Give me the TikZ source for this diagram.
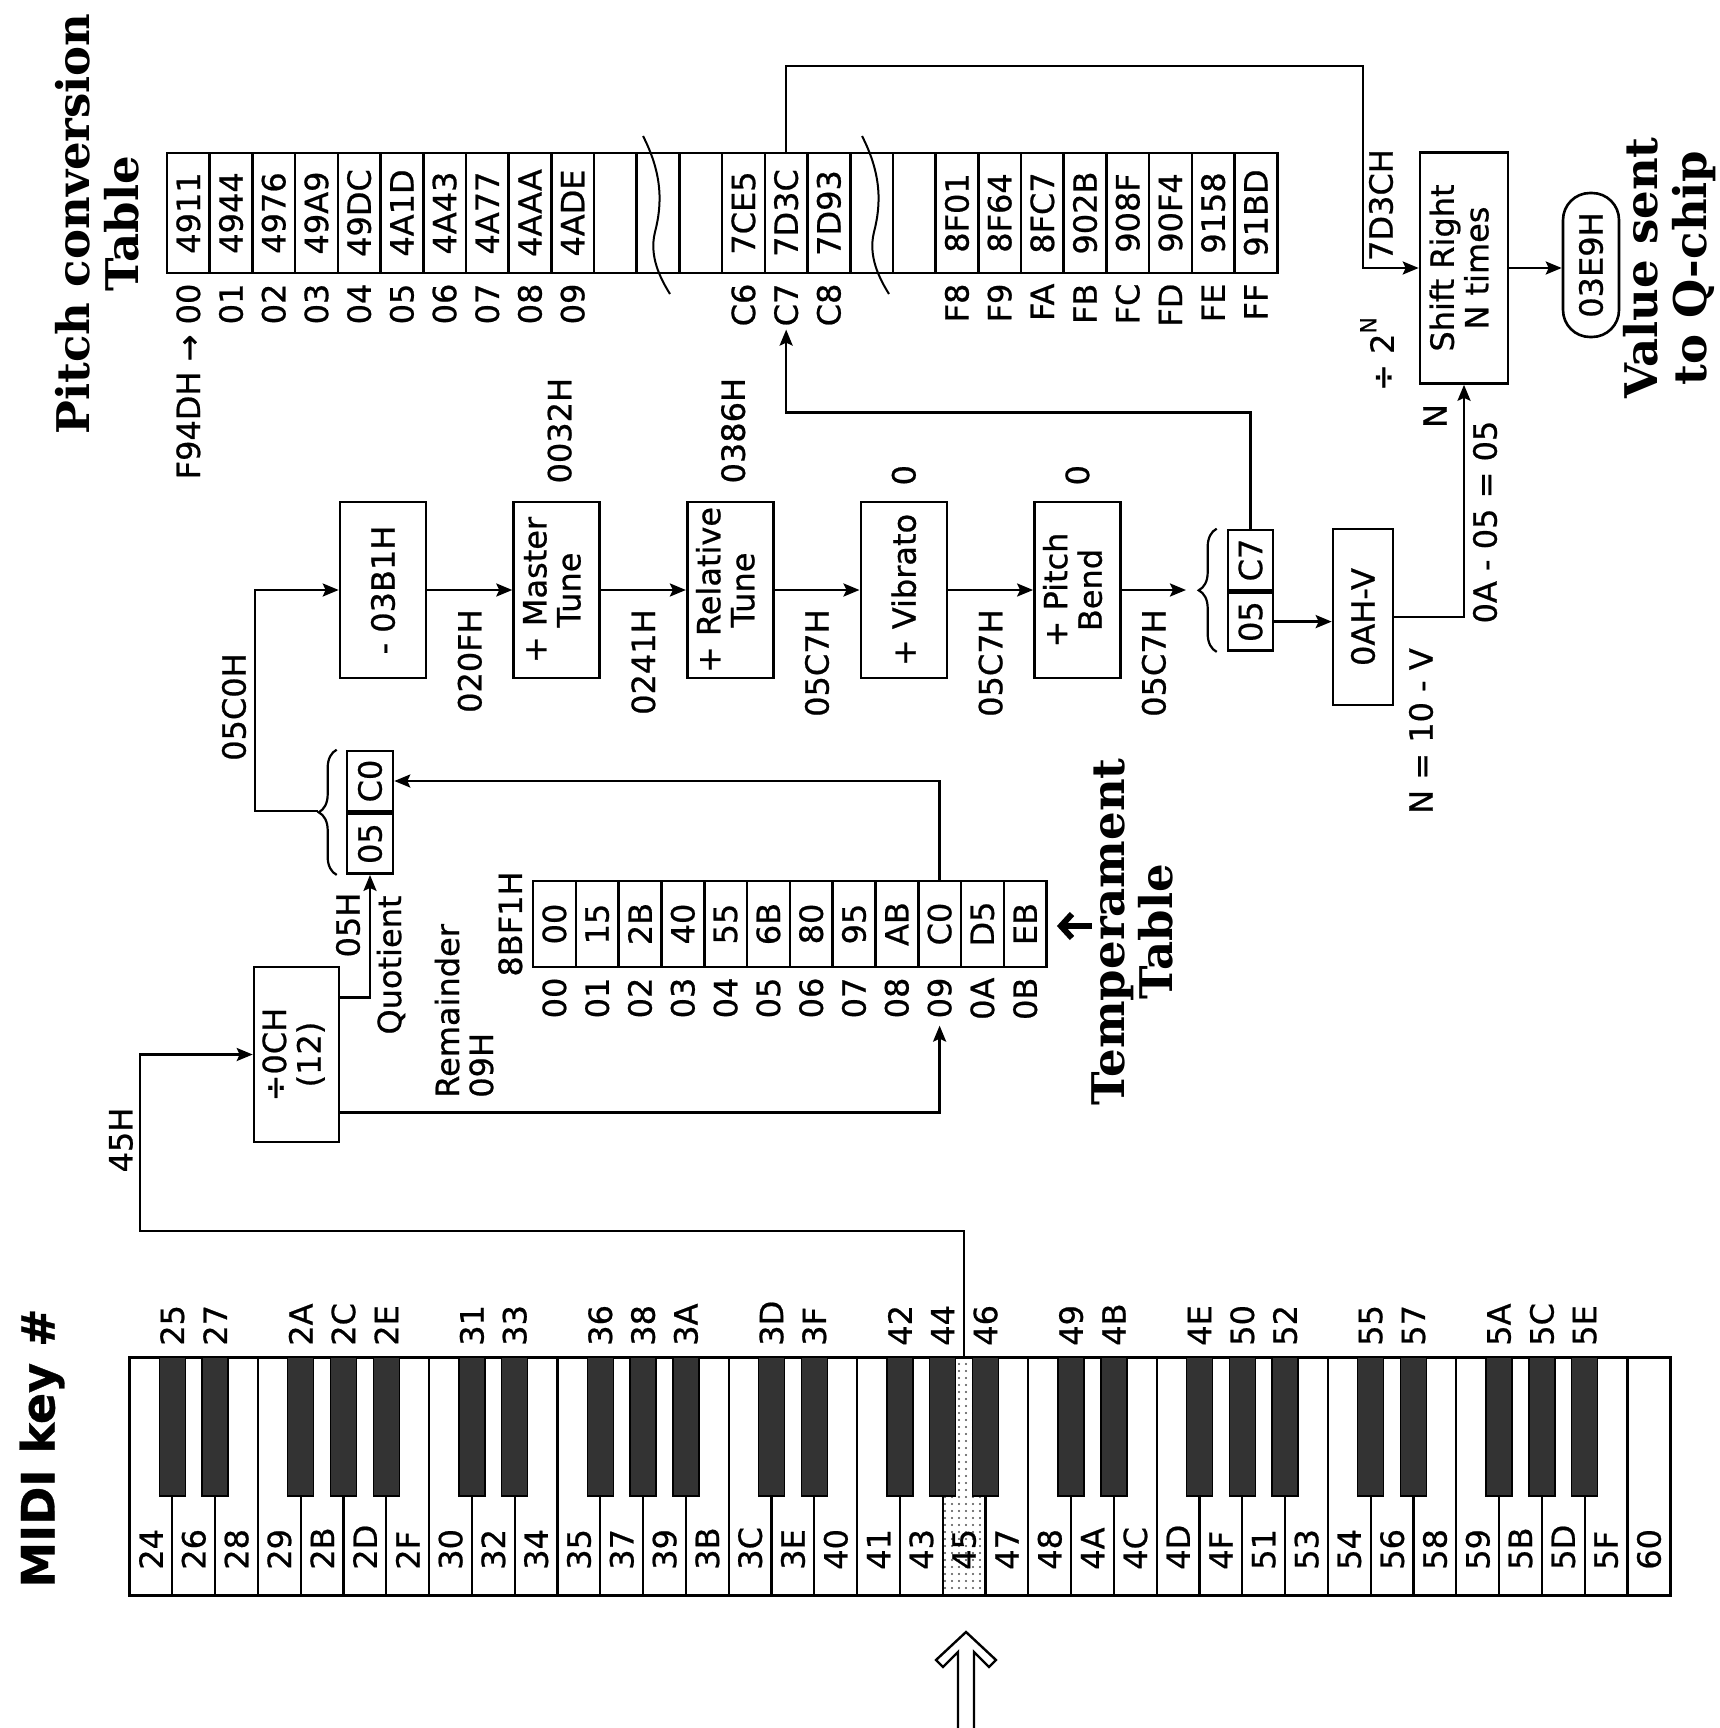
\documentclass[tikz,border=0pt]{standalone}
\usepackage{fontspec}
\setmainfont{DejaVu Sans}[FakeBold=0.7]
\newfontfamily\headfont{DejaVu Serif}
\usetikzlibrary{positioning,arrows.meta,decorations.pathreplacing,patterns.meta}

\newcommand{\vt}[1]{\rotatebox{90}{#1}}
\newcommand{\vtt}[2]{\rotatebox{90}{\begin{tabular}{@{}c@{}}#1\\#2\end{tabular}}}
\newcommand{\vtl}[2]{\rotatebox{90}{\begin{tabular}{@{}l@{}}#1\\#2\end{tabular}}}

\begin{document}
\begin{tikzpicture}[x=1pt, y=-1pt, line width=2.6pt,
    every node/.style={font=\fontsize{32}{34}\selectfont, inner sep=2pt},
    blk/.style={rectangle, draw, minimum width=86pt, minimum height=176pt, inner sep=0pt},
    pcell/.style={rectangle, draw, minimum width=42.7pt, minimum height=120pt, inner sep=0pt},
    tcell/.style={rectangle, draw, minimum width=42.8pt, minimum height=86pt, inner sep=0pt},
    rcell/.style={rectangle, draw, minimum width=46pt, minimum height=60pt, inner sep=0pt},
    ttl/.style={font=\headfont\bfseries\fontsize{45}{47}\selectfont, inner sep=0pt},
    arr/.style={-{Stealth[length=16pt, width=13pt, inset=3pt]}},
    brc/.style={decorate, decoration={brace, amplitude=18pt}, line width=2.2pt},
]
\useasboundingbox (0,0) rectangle (1719,1728);

%% Pitch conversion table
\node[ttl] (pctitle) at (104,224) {\vtt{Pitch conversion}{Table}};
\foreach \v [count=\i from 0] in {4911,4944,4976,49A9,49DC,4A1D,4A43,4A77,4AAA,4ADE,{},{},{},
        7CE5,7D3C,7D93,{},{},8F01,8F64,8FC7,902B,908F,90F4,9158,91BD}
    \node[pcell] (pc-\i) at ({188.35+42.7*\i},213) {\vt{\v}};
\foreach \d in {0,219}
    \draw[line width=2pt] ({643+\d},136) .. controls ({663+\d},175) and ({662+\d},205) .. ({655+\d},232)
        .. controls ({649+\d},256) and ({660+\d},278) .. ({670+\d},294);
\node[below=6pt of pc-0] (pi-0) {\vt{F94DH → 00}};
\foreach \i/\t in {1/01,2/02,3/03,4/04,5/05,6/06,7/07,8/08,9/09,13/C6,14/C7,15/C8,
                   18/F8,19/F9,20/FA,21/FB,22/FC,23/FD,24/FE,25/FF}
    \node[below=6pt of pc-\i] (pi-\i) {\vt{\t}};

%% Temperament table
\foreach \v [count=\i from 0] in {00,15,2B,40,55,6B,80,95,AB,C0,D5,EB}
    \node[tcell] (tc-\i) at ({554.4+42.8*\i},924) {\vt{\v}};
\foreach \t [count=\i from 0] in {00,01,02,03,04,05,06,07,08,09,0A,0B}
    \node[below=6pt of tc-\i] (ti-\i) {\vt{\t}};
\node[left=6pt of tc-0] (tbase) {\vt{8BF1H}};
\node[ttl] (tmtitle) at (1139,932) {\vtt{Temperament}{Table}};
\coordinate (tpt) at (1092,926);
\draw[line width=6pt, -{Straight Barb[length=11pt, width=24pt]}] (tpt) -- ([xshift=9pt, yshift=-2pt]tc-11.east);

%% divide by 12, quotient and remainder
\node[blk, minimum width=85pt, minimum height=175pt] (div) at (296.5,1054.5) {\vtt{÷0CH}{(12)}};
\node[rcell] (qc0) at (370,781) {\vt{C0}};
\node[rcell, below=0pt of qc0] (q05) {\vt{05}};
\draw[brc] ([xshift=-9pt]q05.south west) -- ([xshift=-9pt]qc0.north west);
\coordinate (qbr) at (318,811);
\draw[arr] ([yshift=57pt]div.east) -| (q05.south);
\draw[arr] ([yshift=-58pt]div.east) -| ([yshift=-4pt]ti-9.south);
\draw[arr] (tc-9.north) |- (qc0.east);
\node (l05h) at (348,925) {\vt{05H}};
\node (lquo) at (391,965) {\vt{Quotient}};
\node[anchor=south] (lrem) at (469,1101) {\vtl{Remainder}{09H}};

%% pipeline
\node[blk] (sub) at (383,590) {\vt{- 03B1H}};
\node[blk, right=85pt of sub] (mas) {\vtt{+ Master}{Tune}};
\node[blk, right=85pt of mas] (rel) {\vtt{+ Relative}{Tune}};
\node[blk, right=85pt of rel] (vib) {\vt{+ Vibrato}};
\node[blk, right=85pt of vib] (pbd) {\vtt{+ Pitch}{Bend}};
\node[above=14pt of mas, xshift=3pt] (mt-v) {\vt{0032H}};
\node[above=14pt of rel, xshift=3pt] (rt-v) {\vt{0386H}};
\node[above=12pt of vib] (vb-v) {\vt{0}};
\node[above=12pt of pbd] (pb-v) {\vt{0}};
\draw[arr] (qbr) -- ++(-63,0) |- (sub.west);
\node (l05c0) at (234,707) {\vt{05C0H}};

%% 05|C7 and the table lookup
\node[rcell, minimum width=45pt] (cc7) at (1250.5,560) {\vt{C7}};
\node[rcell, minimum width=45pt, minimum height=58pt, below=0pt of cc7] (c05) {\vt{05}};
\draw[brc] ([xshift=-10pt]c05.south west) -- ([xshift=-10pt]cc7.north west);
\coordinate (cbr) at (1186,590);
\draw[arr] (sub) -- node[below=16pt] (l1) {\vt{020FH}} (mas);
\draw[arr] (mas) -- node[below=16pt] (l2) {\vt{0241H}} (rel);
\draw[arr] (rel) -- node[below=16pt] (l3) {\vt{05C7H}} (vib);
\draw[arr] (vib) -- node[below=16pt] (l4) {\vt{05C7H}} (pbd);
\draw[arr] (pbd) -- node[below=16pt] (l5) {\vt{05C7H}} (cbr);
\draw[arr] (cc7.north) -- ++(0,-116) -| (pi-14.south);

%% shift right
\node[blk, minimum width=60pt, minimum height=176pt] (nv) at (1363,617) {\vt{0AH-V}};
\node[blk, minimum width=88pt, minimum height=231pt] (shr) at (1464,268) {\vtt{Shift Right}{N times}};
\node[draw, rounded corners=27pt, minimum width=56pt, minimum height=144pt, inner sep=0pt]
    (out) at (1591,265) {\vt{03E9H}};
\node[ttl] (vtitle) at (1672,268) {\vtt{Value sent}{to Q-chip}};
\coordinate (ctop) at (1363,66);
\draw[arr] (pc-14.north) |- (ctop) |- (shr.west);
\draw[arr] (c05.east) -- (c05.east -| nv.west);
\draw[arr] (nv.east) -| (shr.south);
\draw[arr] (shr.east) -- (shr.east -| out.west);
\node (l7d) at (1381,205) {\vt{7D3CH}};
\node (ldiv) at (1377,354) {\vt{÷ 2\raisebox{0.55em}{\fontsize{22}{22}\selectfont N}}};
\node (ln) at (1435,416) {\vt{N}};
\node (lcalc) at (1485,522) {\vt{0A - 05 = 05}};
\node (lneq) at (1421,731) {\vt{N = 10 - V}};

%% keyboard
\node[font=\bfseries\fontsize{46}{48}\selectfont, inner sep=0pt] (mkey) at (42,1448) {\vt{MIDI key \#}};
\fill[pattern={Dots[distance=7pt, radius=1.2pt]}, pattern color=black!70]
    (955.7,1357) -- (972.5,1357) -- (972.5,1496) -- (985.5,1496) -- (985.5,1595)
    -- (942.7,1595) -- (942.7,1496) -- (955.7,1496) -- cycle;
\draw[line width=3pt] (129.5,1357) rectangle (1670,1595);
\foreach \j in {1,...,35} {
    \pgfmathsetmacro\ktop{(mod(\j-1,7)==2 || mod(\j-1,7)==6) ? 1357 : 1496}
    \draw[line width=2.2pt] ({129.5+42.8*\j},\ktop) -- ({129.5+42.8*\j},1595);
}
\foreach \k/\j in {25/1,27/2,2A/4,2C/5,2E/6,31/8,33/9,36/11,38/12,3A/13,
                   3D/15,3F/16,42/18,44/19,46/20,49/22,4B/23,4E/25,50/26,52/27,
                   55/29,57/30,5A/32,5C/33,5E/34} {
    \filldraw[fill=black!80, line width=1.5pt] ({129.5+42.8*\j-13},1357) rectangle ({129.5+42.8*\j+13},1496);
    \node[anchor=south] (bk-\k) at ({129.5+42.8*\j},1349) {\vt{\k}};
}
\foreach \k [count=\i from 0] in {24,26,28,29,2B,2D,2F,30,32,34,35,37,39,3B,3C,3E,40,41,43,45,
                                  47,48,4A,4C,4D,4F,51,53,54,56,58,59,5B,5D,5F,60}
    \node[anchor=south] (wk-\k) at ({151+42.8*\i},1573) {\vt{\k}};
\coordinate (k45) at (964,1357);
\coordinate (kbend) at (140,1231);
\draw[arr] (k45) |- (kbend) |- (div.west);
\node (l45) at (121,1140) {\vt{45H}};
%% pressed key marker
\draw[line width=2.4pt, line join=miter] (958,1728) -- (958,1652) -- (943,1667) -- (936,1660)
    -- (966,1632) -- (996,1660) -- (989,1667) -- (974,1652) -- (974,1728);
\end{tikzpicture}
\end{document}
